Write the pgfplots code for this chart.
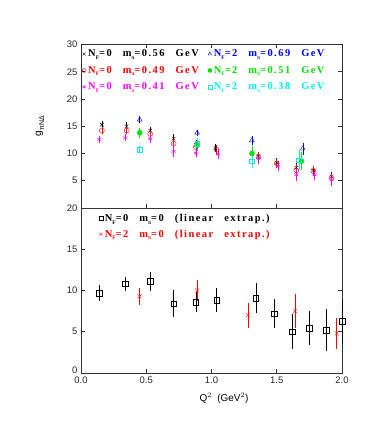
\documentclass[border=0pt]{standalone}
\usepackage{pgfplots}
\pgfplotsset{compat=1.18}
\usepackage{fontspec}
\setmainfont{Liberation Sans}
\newfontfamily\lgd[LetterSpace=14]{Liberation Serif}
\definecolor{mgreen}{RGB}{0,225,0}
\definecolor{mcyan}{RGB}{0,240,240}
\definecolor{mred}{RGB}{255,0,0}
\definecolor{mmag}{RGB}{255,0,255}
\definecolor{mblue}{RGB}{0,0,255}
\newcommand{\lsub}[1]{\raisebox{-0.55ex}{\fontsize{5.5}{5.5}\selectfont #1}}
\newcommand{\lt}[3]{{\lgd\bfseries N\lsub{F}=#1\hspace{11bp}m\lsub{π}=#2\hspace{11bp}#3}}
\pgfplotsset{
  every axis/.append style={
    scale only axis, width=261bp, xmin=0, xmax=2,
    axis line style={line width=0.7pt, black!80},
    tick style={black!80, line width=0.6pt},
    major tick length=4bp,
    tick align=inside,
    xtick={0,0.5,1,1.5,2},
    tick label style={font=\fontsize{9.5}{10}\selectfont, black!85},
    /pgf/number format/assume math mode=true,
    xticklabel style={/pgf/number format/.cd, fixed, fixed zerofill, precision=1, assume math mode=true},
    legend cell align=left,
    legend image code/.code={\path[draw=none, fill=none] (-3bp,-3bp) rectangle (3bp,3bp); \draw[#1, mark size=2pt] plot coordinates {(0bp,0bp)};},
    error bars/error bar style={line width=0.6pt},
    error bars/error mark options={mark size=2.2pt, line width=0.6pt},
    clip=false,
  }
}
\begin{document}
\begin{tikzpicture}
\useasboundingbox (-81bp,-63bp) rectangle (301bp,373bp);
% upper panel
\begin{axis}[at={(0bp,165bp)}, anchor=south west, height=163.5bp,
  ymin=0, ymax=30, ytick={5,10,...,30}, xticklabels={},
  error bars/error mark options={mark size=1.6pt, line width=0.6pt},
  ylabel={g\raisebox{-0.6ex}{\fontsize{7}{7}\selectfont πNΔ}},
  ylabel style={at={(rel axis cs:-0.157,0.5)}, anchor=center, font=\fontsize{10}{11}\selectfont},
  legend columns=2,
  legend style={at={(0.0,0.975)}, anchor=north west, draw=none, fill=none,
    font=\fontsize{10.5}{11}\selectfont, inner sep=0pt, row sep=6bp,
    /tikz/every even column/.append style={column sep=7bp},
    nodes={inner sep=1bp}},
]
\addplot[black, only marks, mark=x, mark size=2.5pt, error bars/.cd, y dir=both, y explicit]
 table[x index=0, y index=1, y error index=2] {
0.16 15.3 0.4
0.35 15.0 0.4
0.53 14.2 0.4
0.71 12.7 0.6
0.88 11.6 0.5
1.03 11.0 0.5
1.36 9.5 0.5
1.50 8.3 0.5
1.65 7.4 0.7
1.78 6.9 0.5
1.92 5.8 0.6
};
\addlegendentry{\lt{0}{0.56}{GeV}}
\addplot[mblue, only marks, mark=triangle, mark size=2.8pt, error bars/.cd, y dir=both, y explicit]
 table[x index=0, y index=1, y error index=2] {
0.45 16.2 0.3
0.89 13.8 0.3
1.31 12.4 0.6
1.70 10.9 0.8
};
\addlegendentry{\textcolor{mblue}{\lt{2}{0.69}{GeV}}}
\addplot[mred, only marks, mark=o, mark size=2.5pt, error bars/.cd, y dir=both, y explicit]
 table[x index=0, y index=1, y error index=2] {
0.16 14.2 0.4
0.35 14.2 0.4
0.53 13.6 0.5
0.71 11.8 0.7
0.88 11.2 0.6
1.04 10.7 0.6
1.36 9.4 0.6
1.50 8.2 0.5
1.65 6.9 0.8
1.78 6.8 0.6
1.92 5.5 0.7
};
\addlegendentry{\textcolor{mred}{\lt{0}{0.49}{GeV}}}
\addplot[mgreen, only marks, mark=*, mark size=2.5pt, error bars/.cd, y dir=both, y explicit]
 table[x index=0, y index=1, y error index=2] {
0.45 13.8 0.6
0.89 11.5 0.7
1.31 10.0 1.0
1.69 8.6 1.4
};
\addlegendentry{\textcolor{mgreen}{\lt{2}{0.51}{GeV}}}
\addplot[mmag, only marks, mark=asterisk, mark size=2.5pt, error bars/.cd, y dir=both, y explicit]
 table[x index=0, y index=1, y error index=2] {
0.14 12.6 0.3
0.34 12.9 0.3
0.53 12.7 0.5
0.71 10.4 0.8
0.88 10.1 0.5
1.05 9.9 0.6
1.36 9.0 0.6
1.51 7.7 0.6
1.65 6.1 0.9
1.79 6.1 0.7
1.92 5.2 0.8
};
\addlegendentry{\textcolor{mmag}{\lt{0}{0.41}{GeV}}}
\addplot[mcyan, only marks, mark=square, mark size=2.3pt, error bars/.cd, y dir=both, y explicit]
 table[x index=0, y index=1, y error index=2] {
0.45 10.7 0.4
0.89 11.8 0.8
1.31 8.6 0.9
1.67 8.8 1.5
};
\addlegendentry{\textcolor{mcyan}{\lt{2}{0.38}{GeV}}}
\end{axis}
% lower panel
\begin{axis}[at={(0bp,0bp)}, anchor=south west, height=165bp,
  ymin=0, ymax=20, ytick={5,10,15,20}, xtick pos=bottom,
  extra y ticks={0}, extra y tick style={yticklabel style={yshift=2.5bp}},
  xlabel={Q$^{2}$\ \ (GeV$^{2}$)},
  xlabel style={at={(rel axis cs:0.548,0)}, anchor=center, yshift=-25bp, font=\fontsize{10}{11}\selectfont},
  legend style={at={(0.064,0.97)}, anchor=north west, draw=none, fill=none,
    font=\fontsize{10.5}{11}\selectfont, inner sep=0pt, row sep=5bp, nodes={inner sep=1bp}},
]
\addplot[black, only marks, mark=square, mark size=2.8pt, error bars/.cd, y dir=both, y explicit]
 table[x index=0, y index=1, y error index=2] {
0.14 9.7 0.65
0.34 10.8 0.6
0.53 11.1 0.9
0.71 8.4 1.35
0.88 8.6 1.0
1.04 8.85 1.2
1.34 9.05 1.55
1.48 7.2 1.45
1.62 5.0 1.85
1.75 5.4 1.8
1.88 5.2 2.25
2.00 6.3 2.4
};
\addlegendentry{\lt{0}{0}{(linear\hspace{11bp}extrap.)}}
\addplot[mred, only marks, mark=x, mark size=2.8pt, error bars/.cd, y dir=both, y explicit]
 table[x index=0, y index=1, y error index=2] {
0.45 9.3 0.75
0.89 10.0 0.95
1.28 7.0 1.25
1.64 7.5 1.8
1.96 4.8 1.65
};
\addlegendentry{\textcolor{mred}{\lt{2}{0}{(linear\hspace{11bp}extrap.)}}}
\end{axis}
\end{tikzpicture}
\end{document}
